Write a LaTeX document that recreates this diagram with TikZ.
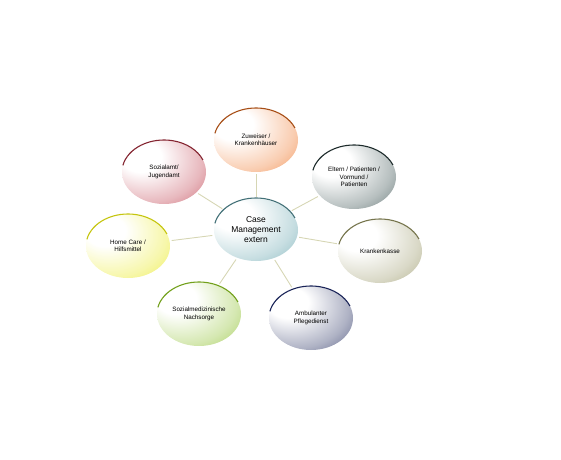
\documentclass[tikz,border=0pt]{standalone}
\usepackage{fontspec}
\setmainfont{Liberation Sans}
\usetikzlibrary{shapes.geometric,positioning}
\usepackage{xcolor}

\definecolor{zuwcol}{HTML}{EE7020}
\definecolor{eltcol}{HTML}{304848}
\definecolor{kkcol}{HTML}{949260}
\definecolor{ambcol}{HTML}{1A2458}
\definecolor{smncol}{HTML}{86BC20}
\definecolor{hccol}{HTML}{E8E810}
\definecolor{sjcol}{HTML}{BC3444}
\definecolor{cmcol}{HTML}{5EA0AA}
\definecolor{linkcol}{HTML}{D6D6B4}

\newcommand{\bubbleshading}[2]{%
  \pgfdeclareradialshading{#1}{\pgfpoint{-16bp}{14bp}}{%
    color(0bp)=(white); color(12bp)=(white);
    color(32bp)=(#2!35!white); color(52bp)=(#2!85!white); color(66bp)=(#2); color(80bp)=(#2)}}
\bubbleshading{zuwshade}{zuwcol}
\bubbleshading{eltshade}{eltcol}
\bubbleshading{kkshade}{kkcol}
\bubbleshading{ambshade}{ambcol}
\bubbleshading{smnshade}{smncol}
\bubbleshading{hcshade}{hccol}
\bubbleshading{sjshade}{sjcol}
\bubbleshading{cmshade}{cmcol}

\begin{document}
\begin{tikzpicture}[x=1bp,y=1bp,
    bubble/.style={ellipse, shading=#1, inner sep=0pt, align=center,
      minimum width=84bp, minimum height=64bp,
      font=\fontsize{6.3}{7.3}\selectfont},
    link/.style={draw=linkcol, line width=0.9pt},
  ]
  \useasboundingbox (0,0) rectangle (561,-460);

  %
  % Positions
  %
  \pgfmathsetmacro{\rx}{42};%
  \pgfmathsetmacro{\ry}{32};%

  %
  % Bubbles
  %
  \node[bubble=cmshade, minimum height=62bp,
    font=\fontsize{8.5}{10}\selectfont] (cm) at (256,-230)
    {Case\\Management\\extern};
  \node[bubble=zuwshade] (zuw) at (256,-140) {Zuweiser /\\Krankenhäuser};
  \node[bubble=eltshade] (elt) at (354,-177) {Eltern / Patienten /\\Vormund /\\Patienten};
  \node[bubble=kkshade] (kk) at (380,-251) {Krankenkasse};
  \node[bubble=ambshade] (amb) at (311,-318) {Ambulanter\\Pflegedienst};
  \node[bubble=smnshade] (smn) at (199,-314) {Sozialmedizinische\\Nachsorge};
  \node[bubble=hcshade] (hc) at (128,-246) {Home Care /\\Hilfsmittel};
  \node[bubble=sjshade] (sj) at (164,-172) {Sozialamt/\\Jugendamt};

  % Upper rims
  \foreach \n/\c in {cm/cmcol!70!black, zuw/zuwcol!70!black,
      elt/eltcol!60!black, kk/kkcol!80!black, amb/ambcol,
      smn/smncol!85!black, hc/hccol!85!black, sj/sjcol!70!black}
    \draw[\c, line width=1.1pt] (\n.center) ++(168:\rx bp and \ry bp)
      arc[start angle=168, end angle=22, x radius=\rx bp, y radius=\ry bp];

  %
  % Connectors
  %
  \foreach \n in {zuw,elt,kk,amb,smn,hc,sj}
    \path[link, shorten <=2bp, shorten >=2bp] (cm) -- (\n);

\end{tikzpicture}
\end{document}
